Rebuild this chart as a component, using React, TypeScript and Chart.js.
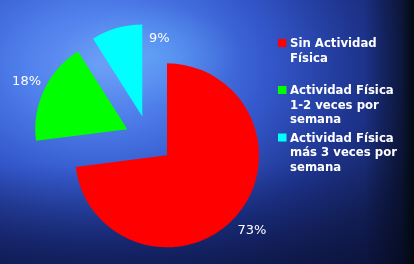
import React, { useEffect, useRef } from "react";
import { Chart, registerables } from "chart.js";

Chart.register(...registerables);

const categories: string[][] = [
  ["Sin Actividad", "Física"],
  ["Actividad Física", "1-2 veces por", "semana"],
  ["Actividad Física", "más 3 veces por", "semana"],
];
const values: number[] = [73, 18, 9];
const colors: string[] = ["#ff0000", "#00ff00", "#00ffff"];

// style: explode distance (px) and label placement
const EXPLODE = 24;
const labelPlacement = [
  { shiftDeg: 0, factor: 1.23 },
  { shiftDeg: 0, factor: 1.21 },
  { shiftDeg: 28.5, factor: 0.87 },
];
const legendFirstBaselines = [47, 94, 141.5];

const explodePlugin = {
  id: "explode",
  afterDatasetsUpdate(chart: any) {
    const meta = chart.getDatasetMeta(0);
    meta.data.forEach((arc: any) => {
      const mid = (arc.startAngle + arc.endAngle) / 2;
      arc.x += Math.cos(mid) * EXPLODE;
      arc.y += Math.sin(mid) * EXPLODE;
    });
  },
};

const pctPlugin = {
  id: "pctLabels",
  afterDatasetsDraw(chart: any) {
    const ctx = chart.ctx;
    const meta = chart.getDatasetMeta(0);
    ctx.save();
    ctx.fillStyle = "#ffffff";
    ctx.font = "13px 'DejaVu Sans', sans-serif";
    ctx.textAlign = "center";
    ctx.textBaseline = "middle";
    meta.data.forEach((arc: any, i: number) => {
      const mid = (arc.startAngle + arc.endAngle) / 2;
      const pl = labelPlacement[i];
      const a = mid + (pl.shiftDeg * Math.PI) / 180;
      const r = arc.outerRadius * pl.factor;
      ctx.fillText(chart.data.datasets[0].data[i] + "%", arc.x + Math.cos(a) * r, arc.y + Math.sin(a) * r);
    });
    ctx.restore();
  },
};

const legendPlugin = {
  id: "sideLegend",
  afterDraw(chart: any) {
    const ctx = chart.ctx;
    ctx.save();
    ctx.font = "bold 13px 'DejaVu Sans Condensed', 'DejaVu Sans', sans-serif";
    ctx.textAlign = "left";
    ctx.textBaseline = "alphabetic";
    const bg = chart.data.datasets[0].backgroundColor;
    (chart.data.labels as string[][]).forEach((lines, i) => {
      const b = legendFirstBaselines[i];
      ctx.fillStyle = bg[i];
      ctx.fillRect(278, b - 8, 8.5, 8);
      ctx.fillStyle = "#ffffff";
      lines.forEach((ln, k) => ctx.fillText(ln, 290, b + k * 14.5));
    });
    ctx.restore();
  },
};

export default function App() {
  const ref = useRef<HTMLCanvasElement>(null);
  useEffect(() => {
    if (!ref.current) return;
    const chart = new Chart(ref.current, {
      type: "pie",
      data: {
        labels: categories,
        datasets: [
          {
            data: values,
            backgroundColor: colors,
            borderWidth: 0,
            offset: 0,
          },
        ],
      },
      options: {
        responsive: false,
        animation: false,
        radius: 92,
        layout: { padding: { left: 0, right: 116, top: 15, bottom: 0 } },
        plugins: {
          legend: { display: false },
          tooltip: { enabled: false },
        },
        events: [],
      } as any,
      plugins: [explodePlugin, pctPlugin, legendPlugin],
    });
    return () => chart.destroy();
  }, []);
  return (
    <div
      style={{
        position: "fixed",
        left: 0,
        top: 0,
        width: 414,
        height: 264,
        overflow: "hidden",
        background:
          "linear-gradient(90deg, rgba(0,0,0,0) 88%, rgba(5,10,25,0.6) 97%, rgba(0,8,10,0.95) 100%)," +
          "linear-gradient(180deg, rgba(8,12,50,0) 62%, rgba(8,12,50,0.45) 100%)," +
          "radial-gradient(ellipse 90px 50px at 150px 55px, rgba(110,200,255,0.35), rgba(110,200,255,0) 100%)," +
          "radial-gradient(ellipse 420px 290px at 100px 65px, #6a98f6 0%, #5080ec 18%, #3458cc 40%, #1e348e 62%, #14235f 80%, #0d163e 100%)",
      }}
    >
      <canvas ref={ref} width={414} height={264} style={{ display: "block" }} />
    </div>
  );
}
